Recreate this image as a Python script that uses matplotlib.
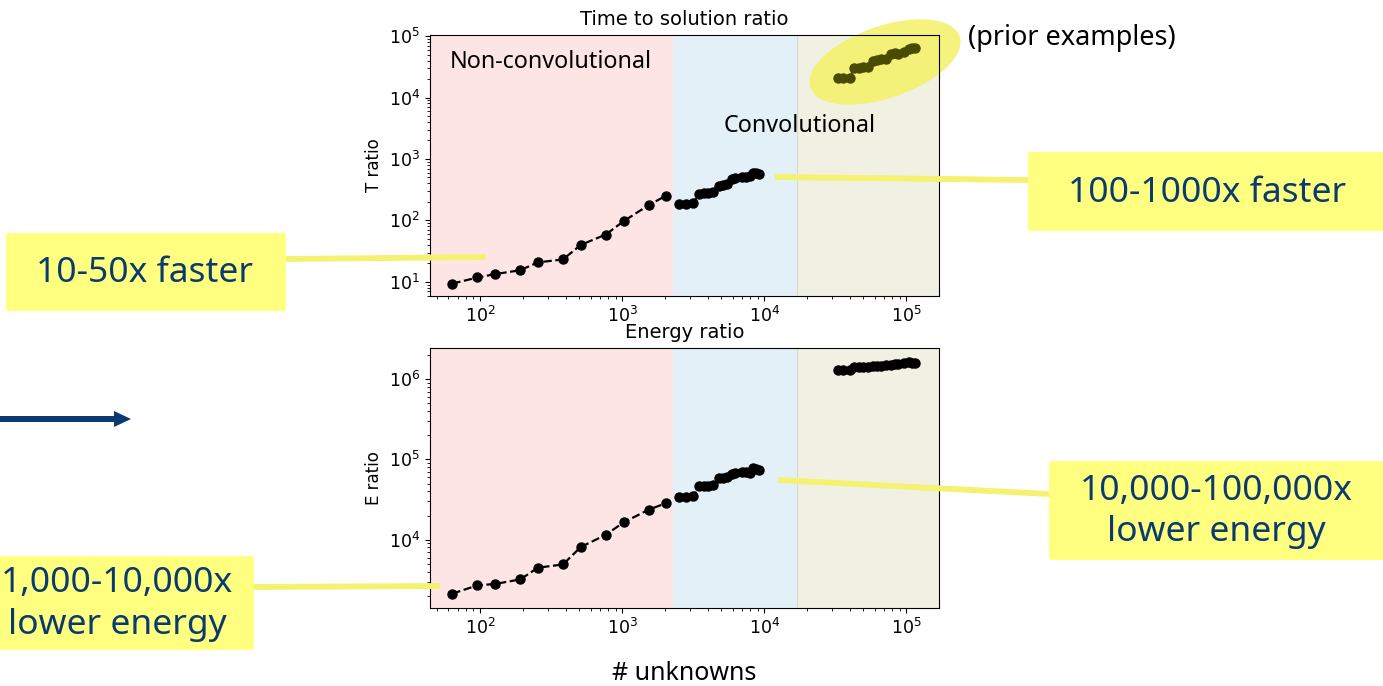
import matplotlib
matplotlib.use("Agg")
import matplotlib.pyplot as plt
from matplotlib.patches import Ellipse, FancyBboxPatch, FancyArrow

# number of unknowns and ratios
n_nonconv = [64, 96, 128, 192, 256, 384, 512, 768, 1024, 1536, 2048]
t_nonconv = [9.4, 11.8, 13.4, 15.5, 20.8, 23.2, 40, 59, 97, 177, 254]
e_nonconv = [2130, 2700, 2810, 3200, 4480, 4920, 8100, 11500, 16400, 23600, 28600]

n_conv = [2500, 2800, 3150, 3500, 3750, 4000, 4400, 4800, 5100, 5450,
          5900, 6250, 6950, 7500, 7950, 8300, 8800, 9250]
t_conv = [186, 186, 191, 274, 276, 278, 285, 370, 380, 391,
          480, 490, 500, 515, 533, 590, 585, 569]
e_conv = [34000, 34000, 34600, 46100, 46500, 47000, 48000, 58000, 59000, 60300,
          66000, 67700, 70300, 69000, 67700, 77300, 76000, 74400]

n_prior = [33000, 36000, 40000, 43000, 46500, 50000, 54000, 58000, 62000,
           66000, 72000, 78000, 83000, 88000, 96000, 104000, 110000, 116000]
t_prior = [21000, 21000, 21000, 30500, 30500, 31000, 31000, 40000, 41000,
           42000, 43000, 52000, 53000, 52000, 56000, 62000, 63000, 63000]
e_prior = [1.30e6, 1.30e6, 1.31e6, 1.40e6, 1.42e6, 1.41e6, 1.40e6, 1.45e6, 1.47e6,
           1.46e6, 1.50e6, 1.52e6, 1.53e6, 1.55e6, 1.58e6, 1.62e6, 1.60e6, 1.58e6]

# region boundaries on the x axis
x_min, x_nonconv_end, x_conv_end, x_max = 44.5, 2290, 17000, 170000

W, H = 1383, 686
fig = plt.figure(figsize=(W / 100, H / 100), dpi=100)

ax_t = fig.add_axes([430 / W, 1 - 296 / H, 509 / W, 261 / H])
ax_e = fig.add_axes([430 / W, 1 - 608 / H, 509 / W, 260 / H])

# overlay in pixel coordinates for slide annotations
ov = fig.add_axes([0, 0, 1, 1], zorder=5)
ov.set_xlim(0, W)
ov.set_ylim(H, 0)
ov.axis("off")
ov.patch.set_alpha(0)

dark_blue = "#0b3b6e"
box_yellow = "#ffff80"
line_yellow = "#f4f270"
prior_col = "#4a4a00"


def draw_panel(ax, t_non, t_con, t_pri, title, ylabel):
    ax.axvspan(x_min, x_nonconv_end, color="#fde5e5", lw=0)
    ax.axvspan(x_nonconv_end, x_conv_end, color="#e4f0f7", lw=0)
    ax.axvspan(x_conv_end, x_max, facecolor="#f1f1e3", edgecolor="#d6dccc", lw=0.8)
    ax.plot(n_nonconv, t_non, "o--", color="black", ms=6.5, lw=1.6, zorder=3)
    ax.plot(n_conv, t_con, "o--", color="black", ms=6.5, lw=1.6, zorder=3)
    ax.plot(n_prior, t_pri, "o--", color="black", ms=6.5, lw=1.6, zorder=3)
    ax.set_xscale("log")
    ax.set_yscale("log")
    ax.set_xlim(x_min, x_max)
    ax.set_title(title, fontsize=14, pad=7)
    ax.set_ylabel(ylabel, fontsize=12)
    ax.tick_params(labelsize=12.5)


draw_panel(ax_t, t_nonconv, t_conv, t_prior, "Time to solution ratio", "T ratio")
draw_panel(ax_e, e_nonconv, e_conv, e_prior, "Energy ratio", "E ratio")
ax_t.set_ylim(5.9, 1.04e5)
ax_e.set_ylim(1410, 2.44e6)

# prior examples highlighted
ax_t.lines[2].set_color(prior_col)
ell = Ellipse((885, 62), 158, 72, angle=-19, facecolor="#f4f166", alpha=0.85,
              lw=0, transform=ov.transData, clip_on=False, zorder=1.5)
ax_t.add_patch(ell)

note_font = "Noto Sans"
ov.text(450, 62, "Non-convolutional", fontsize=16.8, family=note_font, va="center")
ov.text(724, 126, "Convolutional", fontsize=16.8, family=note_font, va="center")
ov.text(968, 38, "(prior examples)", fontsize=19.5, family=note_font, va="center")
ov.text(684, 673, "# unknowns", fontsize=18, family=note_font, ha="center", va="center")

# connector lines
for (x0, y0), (x1, y1) in [((286, 259), (486, 257)), ((775, 177), (1028, 180)),
                           ((778, 480), (1049, 494)), ((254, 587), (440, 586))]:
    ov.plot([x0, x1], [y0, y1], color=line_yellow, lw=4.2, solid_capstyle="butt")

# callout boxes
boxes = [
    (6, 233, 280, 78, "10-50x faster", 145),
    (1028, 152, 380, 79, "100-1000x faster", 1207),
    (1049, 461, 360, 99, "10,000-100,000x\nlower energy", 1216),
    (-40, 556, 294, 94, "1,000-10,000x\nlower energy", 117),
]
for x, y, w, h, label, cx in boxes:
    ov.add_patch(FancyBboxPatch((x, y), w, h, boxstyle="round,pad=0,rounding_size=3",
                                facecolor=box_yellow, edgecolor="none", clip_on=False))
    ov.text(cx, y + h / 2 + 1, label, fontsize=25.5, family=note_font, color=dark_blue,
            ha="center", va="center", linespacing=1.3)

ov.add_patch(FancyArrow(-5, 419, 136, 0, width=6, head_width=16, head_length=17,
                        length_includes_head=True, color=dark_blue, lw=0))

fig.savefig("out.png", dpi=100)
